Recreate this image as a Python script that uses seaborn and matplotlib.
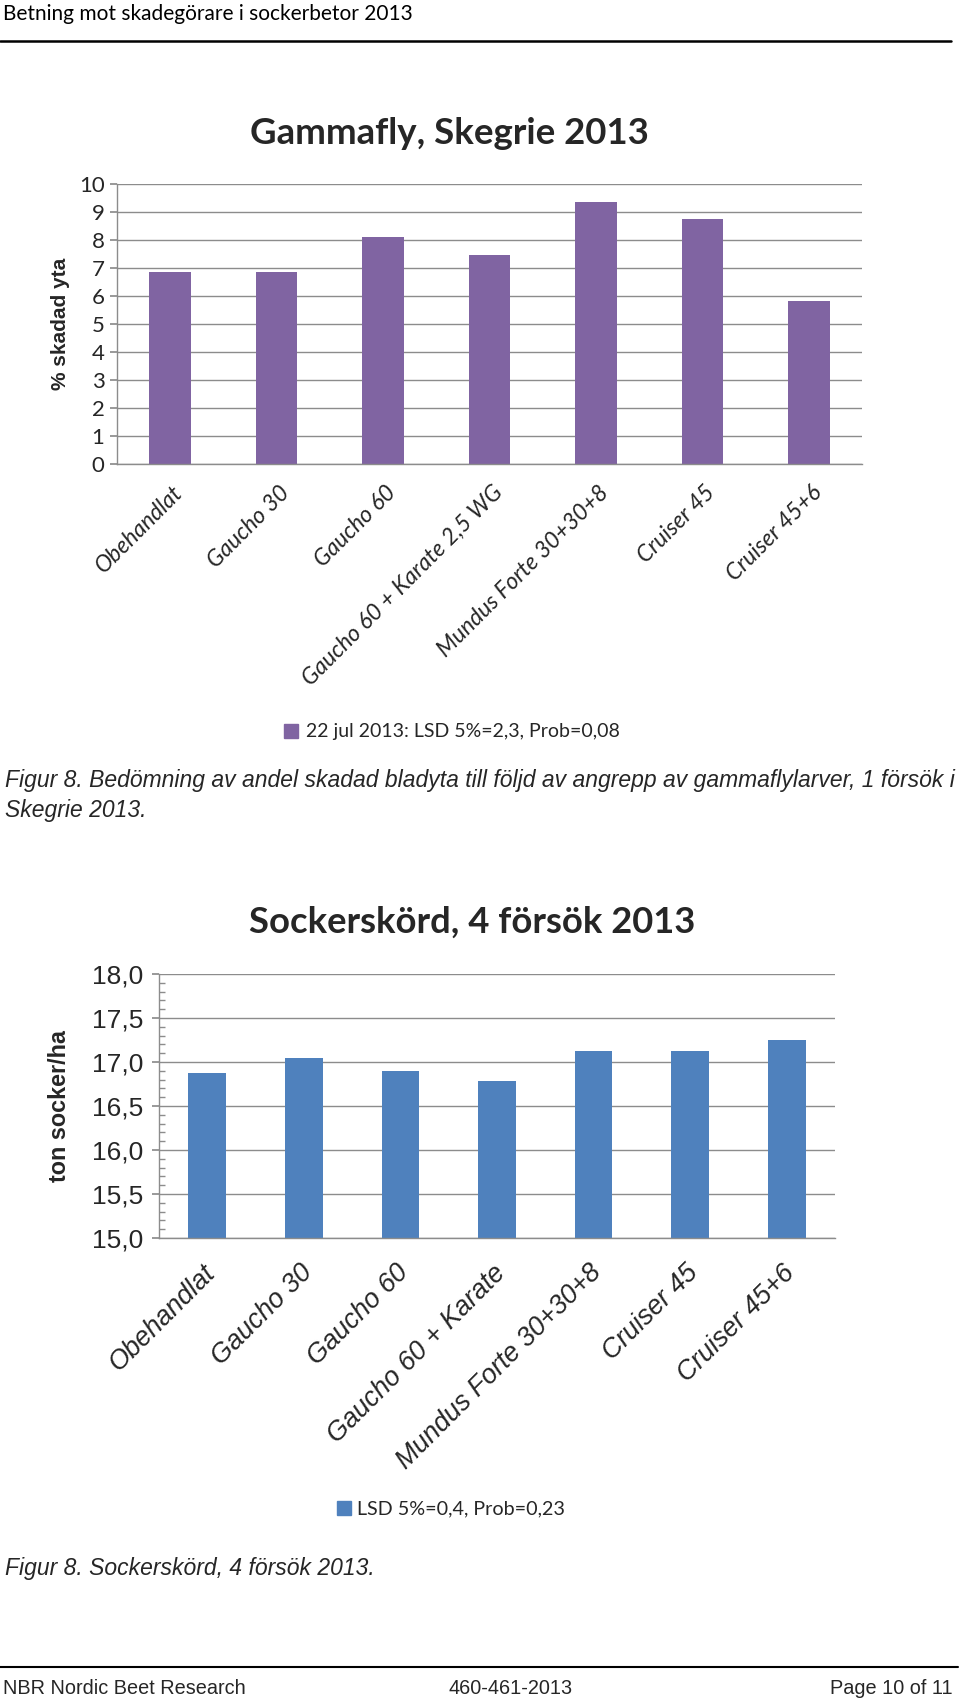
import matplotlib
matplotlib.use("Agg")
import matplotlib.pyplot as plt
import matplotlib.transforms as mtrans
import seaborn as sns
import pandas as pd
from matplotlib.patches import Patch
from matplotlib.lines import Line2D
from matplotlib.ticker import MultipleLocator, FuncFormatter

sns.set_theme(style="white")
plt.rcParams['font.family'] = ['Lato', 'DejaVu Sans']

# ---- data ----
cats1 = ["Obehandlat", "Gaucho 30", "Gaucho 60", "Gaucho 60 + Karate 2,5 WG",
         "Mundus Forte 30+30+8", "Cruiser 45", "Cruiser 45+6"]
vals1 = [6.85, 6.85, 8.12, 7.47, 9.35, 8.74, 5.81]
legend1 = "22 jul 2013: LSD 5%=2,3, Prob=0,08"
title1 = "Gammafly, Skegrie 2013"
ylabel1 = "% skadad yta"

cats2 = ["Obehandlat", "Gaucho 30", "Gaucho 60", "Gaucho 60 + Karate",
         "Mundus Forte 30+30+8", "Cruiser 45", "Cruiser 45+6"]
vals2 = [16.87, 17.05, 16.90, 16.78, 17.12, 17.13, 17.25]
legend2 = "LSD 5%=0,4, Prob=0,23"
title2 = "Sockerskörd, 4 försök 2013"
ylabel2 = "ton socker/ha"

PURPLE = "#8064A2"
BLUE = "#4F81BD"
GRID = "#8C8C8C"
ARIAL = ['Liberation Sans', 'DejaVu Sans']

W, H = 960, 1705
fig = plt.figure(figsize=(W / 100, H / 100), dpi=100)
fig.patch.set_facecolor("white")

def fx(px):
    return px / W

def fy(py):
    return 1 - py / H

def shift(ax, dx, dy):
    for lbl in ax.get_xticklabels():
        lbl.set_transform(lbl.get_transform() + mtrans.ScaledTranslation(dx, dy, fig.dpi_scale_trans))

# ---- page header ----
fig.text(fx(3), fy(14), "Betning mot skadegörare i sockerbetor 2013", fontsize=15,
         ha="left", va="center", color="black")
fig.add_artist(Line2D([fx(0), fx(951)], [fy(41), fy(41)], color="black", lw=1.8))

# ---- chart 1 ----
ax1 = fig.add_axes([fx(117), fy(464), fx(862) - fx(117), (464 - 184) / H])
df1 = pd.DataFrame({"cat": cats1, "val": vals1})
sns.barplot(data=df1, x="cat", y="val", ax=ax1, color=PURPLE, width=0.39,
            saturation=1, edgecolor="none")
ax1.set_ylim(0, 10)
ax1.set_xlim(-0.5, len(cats1) - 0.5)
ax1.yaxis.set_major_locator(MultipleLocator(1))
ax1.grid(axis="y", color=GRID, lw=1.0)
ax1.set_axisbelow(True)
for s in ["top", "right"]:
    ax1.spines[s].set_visible(False)
for s in ["left", "bottom"]:
    ax1.spines[s].set_color(GRID)
    ax1.spines[s].set_linewidth(1.0)
ax1.tick_params(axis="y", left=True, length=5, color=GRID, labelsize=16, pad=4)
ax1.tick_params(axis="x", bottom=False, length=0)
ax1.set_xticks(range(len(cats1)))
ax1.set_xticklabels(cats1, rotation=45, ha="right", rotation_mode="anchor",
                    fontsize=16.5, fontstyle="italic")
shift(ax1, 0.02, -0.13)
ax1.set_xlabel("")
ax1.set_ylabel(ylabel1, fontsize=15, fontweight="bold", family=ARIAL)
ax1.yaxis.set_label_coords(-0.063, 0.5)
fig.text(fx(449), fy(134), title1, fontsize=26.4, fontweight="bold", ha="center", va="center")
fig.legend(handles=[Patch(color=PURPLE, label=legend1)], loc="center",
           bbox_to_anchor=(fx(452), fy(732)), frameon=False, fontsize=14,
           handlelength=0.7, handleheight=0.7, handletextpad=0.4)

# ---- caption 1 ----
cap_kw = dict(fontsize=16.5, fontstyle="italic", family=ARIAL, ha="left", va="center")
fig.text(fx(5), fy(781), "Figur 8. Bedömning av andel skadad bladyta till följd av angrepp av gammaflylarver, 1 försök i", **cap_kw)
fig.text(fx(5), fy(810), "Skegrie 2013.", **cap_kw)

# ---- chart 2 ----
ax2 = fig.add_axes([fx(159), fy(1238), fx(835) - fx(159), (1238 - 974) / H])
df2 = pd.DataFrame({"cat": cats2, "val": vals2})
sns.barplot(data=df2, x="cat", y="val", ax=ax2, color=BLUE, width=0.39,
            saturation=1, edgecolor="none")
ax2.set_ylim(15, 18)
ax2.set_xlim(-0.5, len(cats2) - 0.5)
ax2.yaxis.set_major_locator(MultipleLocator(0.5))
ax2.yaxis.set_minor_locator(MultipleLocator(0.1))
ax2.yaxis.set_major_formatter(FuncFormatter(lambda v, p: f"{v:.1f}".replace(".", ",")))
ax2.grid(axis="y", which="major", color=GRID, lw=1.0)
ax2.set_axisbelow(True)
for s in ["top", "right"]:
    ax2.spines[s].set_visible(False)
for s in ["left", "bottom"]:
    ax2.spines[s].set_color(GRID)
    ax2.spines[s].set_linewidth(1.0)
ax2.tick_params(axis="y", which="major", left=True, length=5, color=GRID, labelsize=19, pad=6)
ax2.tick_params(axis="y", which="minor", left=True, length=4, direction="in", color=GRID)
for lbl in ax2.get_yticklabels():
    lbl.set_family(ARIAL)
ax2.tick_params(axis="x", bottom=False, length=0)
ax2.set_xticks(range(len(cats2)))
ax2.set_xticklabels(cats2, rotation=45, ha="right", rotation_mode="anchor",
                    fontsize=19.3, fontstyle="italic", family=ARIAL)
shift(ax2, -0.05, -0.17)
ax2.set_xlabel("")
ax2.set_ylabel(ylabel2, fontsize=16.8, fontweight="bold", family=ARIAL)
ax2.yaxis.set_label_coords(-0.13, 0.5)
fig.text(fx(472), fy(922), title2, fontsize=26.2, fontweight="bold", ha="center", va="center")
fig.legend(handles=[Patch(color=BLUE, label=legend2)], loc="center",
           bbox_to_anchor=(fx(451), fy(1509)), frameon=False, fontsize=14.2,
           handlelength=0.7, handleheight=0.7, handletextpad=0.3)

# ---- caption 2 ----
fig.text(fx(5), fy(1568), "Figur 8. Sockerskörd, 4 försök 2013.", **cap_kw)

# ---- footer ----
fig.add_artist(Line2D([fx(0), fx(958)], [fy(1667), fy(1667)], color="black", lw=1.5))
foot_kw = dict(fontsize=14.3, family=ARIAL, va="center")
fig.text(fx(3), fy(1689), "NBR Nordic Beet Research", ha="left", **foot_kw)
fig.text(fx(511), fy(1689), "460-461-2013", ha="center", **foot_kw)
fig.text(fx(953), fy(1689), "Page 10 of 11", ha="right", **foot_kw)

fig.savefig("out.png", dpi=100, facecolor="white")
